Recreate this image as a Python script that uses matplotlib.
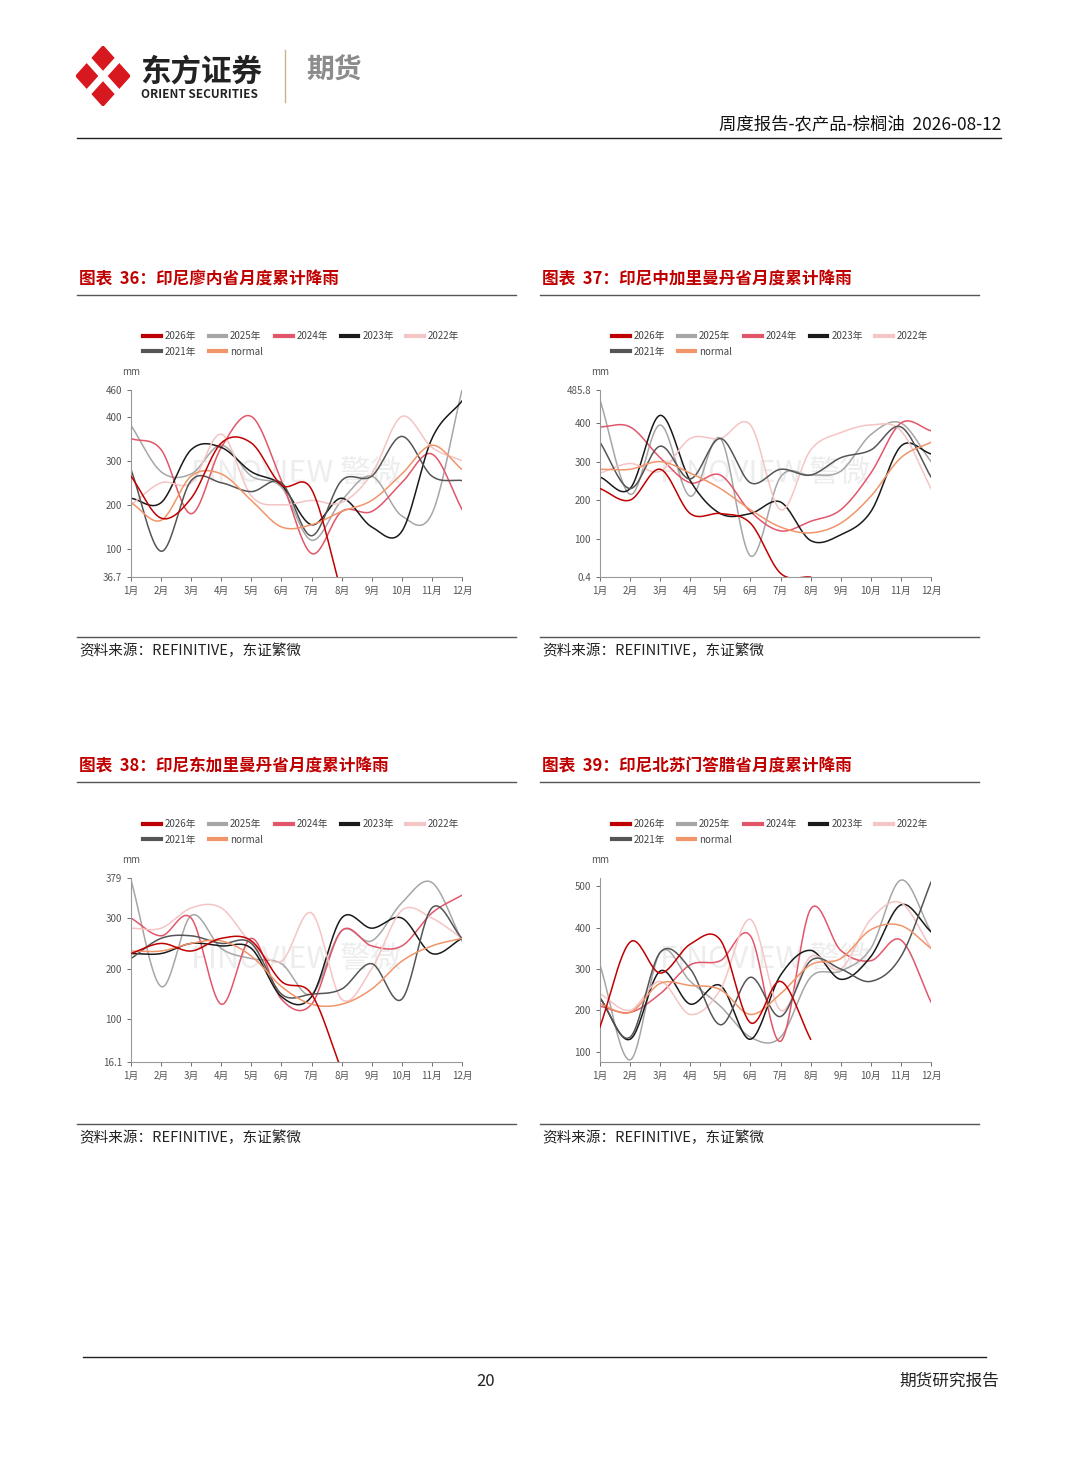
import numpy as np
import matplotlib
matplotlib.use("Agg")
import matplotlib.pyplot as plt
from matplotlib.lines import Line2D
from matplotlib.patches import Polygon

plt.rcParams['font.family'] = ['Noto Sans CJK SC', 'DejaVu Sans']

months = ['1月', '2月', '3月', '4月', '5月', '6月', '7月', '8月', '9月', '10月', '11月', '12月']
series_names = ['2026年', '2025年', '2024年', '2023年', '2022年', '2021年', 'normal']
colors = ['#c00000', '#a6a6a6', '#e2566a', '#1a1a1a', '#f5c4c4', '#555555', '#f0956a']

# chart 36
c36_2026 = [265, 170, 215, 340, 340, 245, 235, 0]
c36_2025 = [380, 275, 270, 335, 265, 240, 120, 210, 265, 175, 180, 460]
c36_2024 = [350, 325, 180, 330, 400, 255, 90, 185, 185, 250, 315, 190]
c36_2023 = [215, 205, 325, 330, 275, 245, 155, 215, 150, 140, 350, 435]
c36_2022 = [200, 250, 250, 360, 220, 200, 210, 205, 270, 400, 330, 300]
c36_2021 = [280, 95, 255, 250, 230, 250, 130, 255, 265, 355, 265, 255]
c36_norm = [205, 165, 265, 270, 210, 150, 155, 185, 210, 270, 335, 280]

# chart 37
c37_2026 = [230, 200, 280, 165, 165, 140, 10, 0]
c37_2025 = [460, 215, 395, 210, 360, 55, 260, 265, 275, 370, 400, 300]
c37_2024 = [390, 390, 310, 245, 265, 170, 120, 145, 175, 270, 400, 380]
c37_2023 = [260, 230, 420, 250, 165, 165, 195, 95, 110, 170, 340, 320]
c37_2022 = [270, 295, 275, 360, 360, 395, 175, 330, 375, 395, 380, 230]
c37_2021 = [350, 230, 340, 255, 360, 245, 280, 265, 310, 330, 390, 260]
c37_norm = [280, 280, 300, 270, 230, 175, 130, 115, 140, 210, 310, 350]

# chart 38
c38_2026 = [230, 250, 235, 260, 255, 175, 150, 0]
c38_2025 = [375, 165, 305, 240, 220, 210, 150, 275, 255, 330, 370, 255]
c38_2024 = [300, 265, 300, 130, 260, 140, 130, 275, 245, 245, 310, 345]
c38_2023 = [230, 230, 250, 245, 240, 145, 145, 300, 280, 300, 230, 260]
c38_2022 = [280, 280, 320, 320, 250, 215, 310, 140, 200, 315, 300, 260]
c38_2021 = [220, 260, 265, 250, 250, 150, 150, 160, 210, 140, 320, 260]
c38_norm = [235, 235, 250, 255, 225, 165, 130, 130, 160, 215, 245, 260]

# chart 39
c39_2026 = [160, 365, 290, 360, 370, 170, 270, 130]
c39_2025 = [310, 80, 340, 270, 210, 135, 135, 280, 295, 350, 515, 390]
c39_2024 = [210, 195, 240, 310, 320, 380, 125, 445, 345, 320, 370, 220]
c39_2023 = [230, 130, 295, 215, 260, 130, 285, 345, 275, 330, 455, 390]
c39_2022 = [240, 200, 270, 190, 250, 420, 200, 330, 300, 420, 460, 350]
c39_2021 = [230, 135, 340, 300, 165, 280, 185, 320, 300, 270, 330, 510]
c39_norm = [215, 195, 265, 260, 250, 190, 240, 310, 325, 395, 405, 350]

charts = [
    dict(title='图表  36：印尼廖内省月度累计降雨', px=(131, 577, 331, 187), x0=78, ylim=(36.7, 460),
         yticks=[36.7, 100, 200, 300, 400, 460], ylabels=['36.7', '100', '200', '300', '400', '460'],
         data=[c36_2026, c36_2025, c36_2024, c36_2023, c36_2022, c36_2021, c36_norm], top=280),
    dict(title='图表  37：印尼中加里曼丹省月度累计降雨', px=(600, 577, 331, 187), x0=541, ylim=(0.4, 485.8),
         yticks=[0.4, 100, 200, 300, 400, 485.8], ylabels=['0.4', '100', '200', '300', '400', '485.8'],
         data=[c37_2026, c37_2025, c37_2024, c37_2023, c37_2022, c37_2021, c37_norm], top=280),
    dict(title='图表  38：印尼东加里曼丹省月度累计降雨', px=(131, 1062, 331, 184), x0=78, ylim=(16.1, 379),
         yticks=[16.1, 100, 200, 300, 379], ylabels=['16.1', '100', '200', '300', '379'],
         data=[c38_2026, c38_2025, c38_2024, c38_2023, c38_2022, c38_2021, c38_norm], top=767),
    dict(title='图表  39：印尼北苏门答腊省月度累计降雨', px=(600, 1062, 331, 184), x0=541, ylim=(75, 520),
         yticks=[100, 200, 300, 400, 500], ylabels=['100', '200', '300', '400', '500'],
         data=[c39_2026, c39_2025, c39_2024, c39_2023, c39_2022, c39_2021, c39_norm], top=767),
]

W, H = 1080, 1466


def smooth(y, n=24):
    # Catmull-Rom curve through the monthly points
    y = np.asarray(y, float)
    x = np.arange(1, len(y) + 1, dtype=float)
    p = np.concatenate([[2 * y[0] - y[1]], y, [2 * y[-1] - y[-2]]])
    xs, ys = [], []
    for i in range(len(y) - 1):
        t = np.linspace(0, 1, n, endpoint=False)
        p0, p1, p2, p3 = p[i], p[i + 1], p[i + 2], p[i + 3]
        v = 0.5 * ((2 * p1) + (-p0 + p2) * t + (2 * p0 - 5 * p1 + 4 * p2 - p3) * t ** 2
                   + (-p0 + 3 * p1 - 3 * p2 + p3) * t ** 3)
        xs.append(x[i] + t)
        ys.append(v)
    xs.append([x[-1]])
    ys.append([y[-1]])
    return np.concatenate(xs), np.concatenate(ys)


fig = plt.figure(figsize=(W / 100, H / 100), dpi=100)


def fx(px):
    return px / W


def fy(py):
    return 1 - py / H


# header
logo = fig.add_axes([fx(76), fy(106), fx(54), 60 / H])
logo.set_xlim(-1, 1)
logo.set_ylim(-1, 1)
logo.axis('off')
logo.add_patch(Polygon([[0, 1], [1, 0], [0, -1], [-1, 0]], closed=True, color='#d7181f'))
logo.plot([-0.45, 0.45], [-0.45, 0.45], color='white', lw=5)
logo.plot([-0.45, 0.45], [0.45, -0.45], color='white', lw=5)
fig.text(fx(140), fy(72), '东方证券', fontsize=22, fontweight='bold', color='#222222', va='center')
fig.text(fx(141), fy(95), 'ORIENT SECURITIES', fontsize=8.5, fontweight='bold', color='#222222', va='center')
fig.add_artist(Line2D([fx(285), fx(285)], [fy(50), fy(102)], color='#c9b48a', lw=1))
fig.text(fx(306), fy(71), '期货', fontsize=20, fontweight='bold', color='#8c8c8c', va='center')
fig.text(fx(1001), fy(124), '周度报告-农产品-棕榈油  2026-08-12', fontsize=12.5, color='#111111', ha='right', va='center')
fig.add_artist(Line2D([fx(77), fx(1001)], [fy(138), fy(138)], color='#222222', lw=1))

# footer
fig.add_artist(Line2D([fx(83), fx(986)], [fy(1357), fy(1357)], color='#222222', lw=1))
fig.text(fx(486), fy(1381), '20', fontsize=12, ha='center', va='center', color='#222222')
fig.text(fx(999), fy(1381), '期货研究报告', fontsize=12, ha='right', va='center', color='#222222')

# legend order so that matplotlib's column filling gives rows 2026..2022 / 2021, normal
leg_order = [0, 5, 1, 6, 2, 3, 4]

for c in charts:
    left, bottom, w, h = c['px']
    x0 = c['x0']
    # title + rules
    fig.text(fx(x0 + 1), fy(c['top']), c['title'], fontsize=12, fontweight='bold', color='#c00000', va='center')
    fig.add_artist(Line2D([fx(x0 - 1), fx(x0 + 438)], [fy(c['top'] + 15)] * 2, color='#555555', lw=1))
    fig.add_artist(Line2D([fx(x0 - 1), fx(x0 + 438)], [fy(c['top'] + 357)] * 2, color='#555555', lw=1))
    fig.text(fx(x0 + 1), fy(c['top'] + 371), '资料来源：REFINITIVE，东证繁微', fontsize=10.5, color='#222222', va='center')

    ax = fig.add_axes([fx(left), fy(bottom), fx(w), h / H])
    for name, col, vals in zip(series_names, colors, c['data']):
        xs, ys = smooth(vals)
        ax.plot(xs, ys, color=col, lw=1.1, label=name, zorder=3 if name == '2026年' else 2)
    ax.set_xlim(1, 12)
    ax.set_ylim(*c['ylim'])
    ax.set_xticks(range(1, 13))
    ax.set_xticklabels(months)
    ax.set_yticks(c['yticks'])
    ax.set_yticklabels(c['ylabels'])
    ax.tick_params(labelsize=7, colors='#555555', length=3, width=0.6)
    for s in ['top', 'right']:
        ax.spines[s].set_visible(False)
    for s in ['left', 'bottom']:
        ax.spines[s].set_color('#999999')
        ax.spines[s].set_linewidth(0.8)
    ax.text(6.5, c['ylim'][0] + 0.55 * (c['ylim'][1] - c['ylim'][0]), 'FINOVIEW 警微',
            fontsize=22, color='#cccccc', alpha=0.35, ha='center', va='center', zorder=1)
    top_axes = bottom - h
    fig.text(fx(left - 9), fy(top_axes - 18), 'mm', fontsize=7, color='#555555', va='center')
    handles = [Line2D([0], [0], color=colors[i], lw=3) for i in leg_order]
    labels = [series_names[i] for i in leg_order]
    fig.legend(handles, labels, loc='upper left', ncol=5,
               bbox_to_anchor=(fx(left + 12), fy(top_axes - 59)), frameon=False,
               fontsize=7, handlelength=1.8, handletextpad=0.4, columnspacing=1.3,
               labelspacing=0.6, borderaxespad=0, borderpad=0, labelcolor='#444444')

fig.savefig('out.png', dpi=100, facecolor='white')
